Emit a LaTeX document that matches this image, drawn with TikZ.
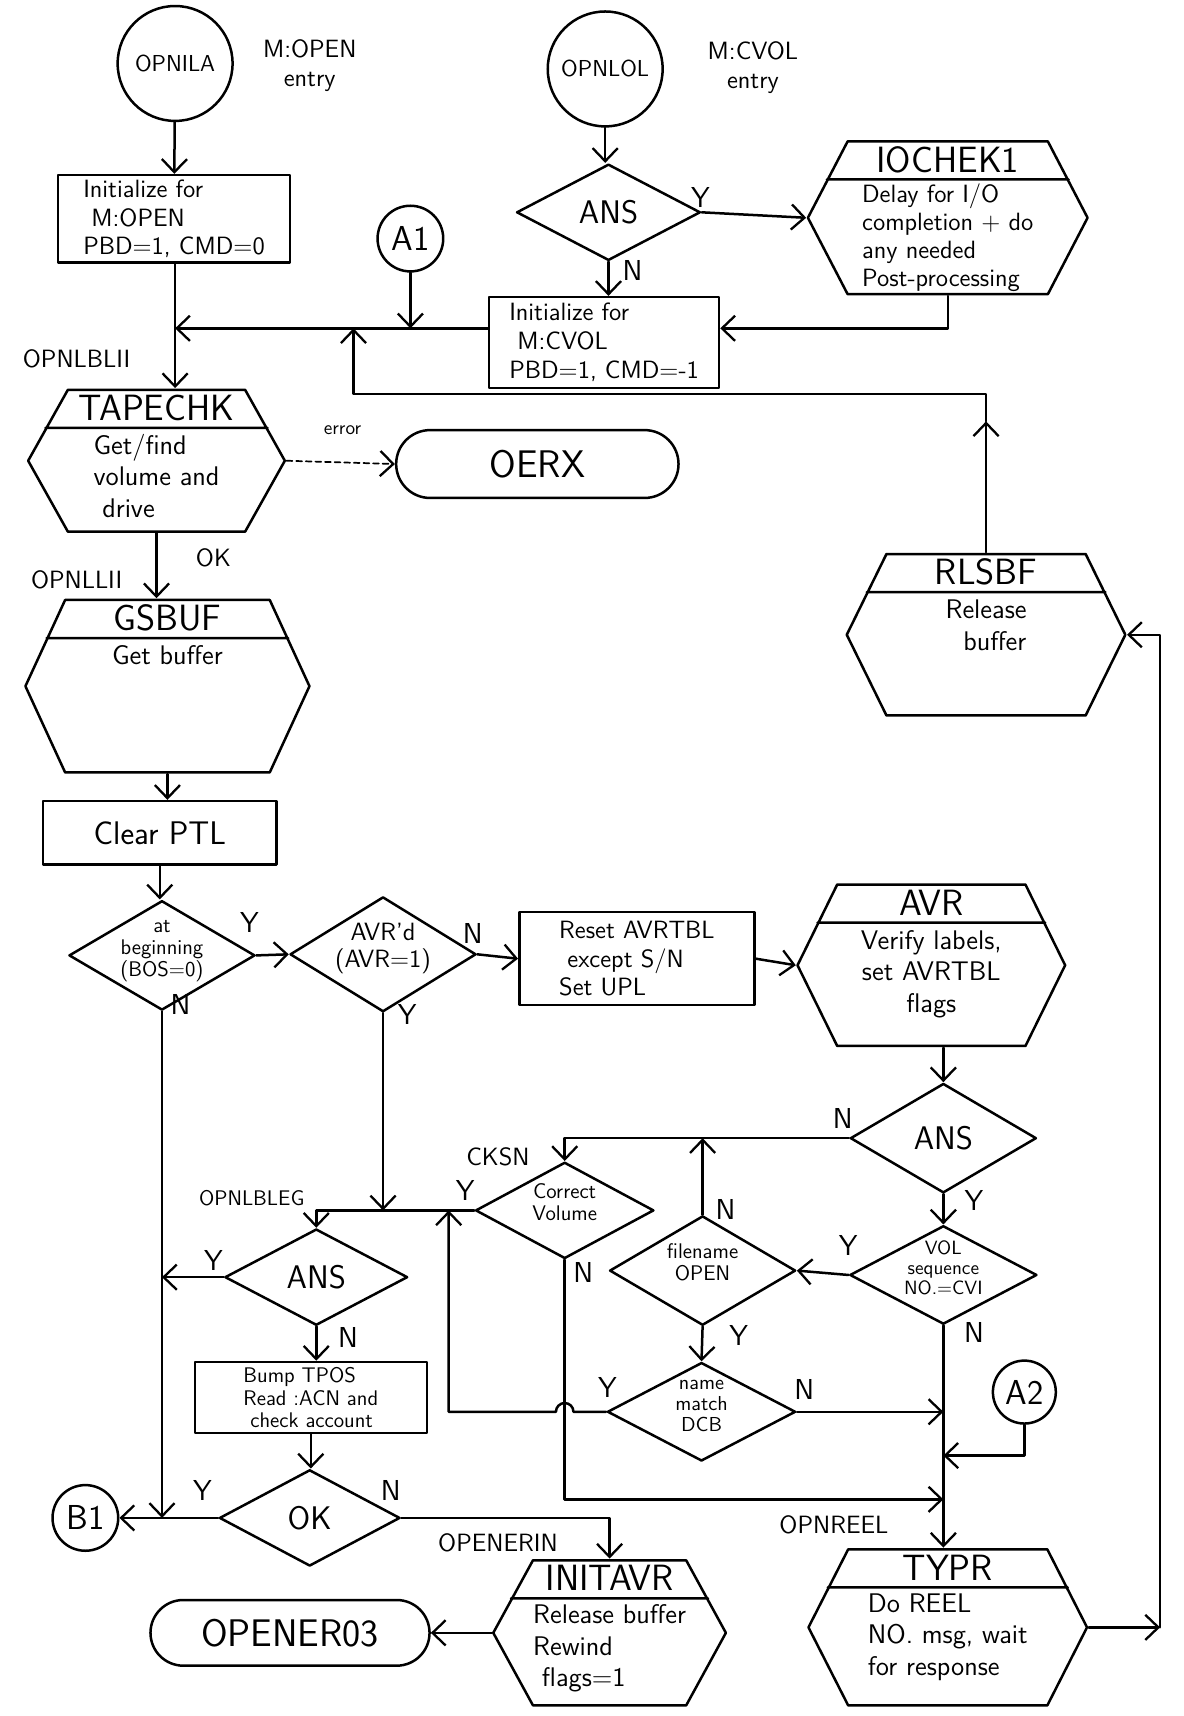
\documentclass[tikz,border=0pt]{standalone}
\usepackage{fontspec}
\usetikzlibrary{arrows.meta,positioning,calc,shapes.geometric,shapes.misc}
\newcommand{\hexcut}{7.5mm}
\newcommand{\hexdiv}{7.2mm}
\newcommand{\dlab}[1]{\smash{\makebox[0pt]{\begin{tabular}{@{}c@{}}#1\end{tabular}}}}
\tikzset{
  ln/.style={line width=1.3pt, line cap=round, line join=round},
  arr/.style={ln, -{Straight Barb[length=2.4mm,width=4.6mm,line width=1.2pt]}},
  dasharr/.style={arr, line width=0.9pt, dash pattern=on 3pt off 2pt},
  procbox/.style={draw, ln, rectangle, inner sep=0pt, align=left, font=\sffamily\fontsize{13}{15}\selectfont},
  decision/.style={draw, ln, diamond, inner sep=0pt, font=\sffamily\fontsize{11}{11.5}\selectfont},
  termbox/.style={draw, ln, rounded rectangle, inner sep=0pt, font=\sffamily\fontsize{20}{22}\selectfont},
  connect/.style={draw, ln, circle, inner sep=0pt, font=\sffamily\fontsize{18}{20}\selectfont},
  entry/.style={draw, ln, circle, inner sep=0pt, font=\sffamily\fontsize{12}{14}\selectfont},
  hexbox/.style={inner sep=0pt, path picture={
    \draw[ln] let \p1=(path picture bounding box.north west), \p2=(path picture bounding box.south east) in
      ({\x1+\hexcut},{\y1-0.7pt}) -- ({\x2-\hexcut},{\y1-0.7pt}) -- ({\x2-0.7pt},{(\y1+\y2)/2})
      -- ({\x2-\hexcut},{\y2+0.7pt}) -- ({\x1+\hexcut},{\y2+0.7pt}) -- ({\x1+0.7pt},{(\y1+\y2)/2}) -- cycle
      ({\x1+\hexcut-\hexcut*2*\hexdiv/(\y1-\y2)},{\y1-\hexdiv}) -- ({\x2-\hexcut+\hexcut*2*\hexdiv/(\y1-\y2)},{\y1-\hexdiv});
  }},
  hextitle/.style={inner sep=0pt, font=\sffamily\fontsize{19}{21}\selectfont},
  hexbody/.style={anchor=north, inner sep=0pt, align=left, font=\sffamily\fontsize{14}{16.5}\selectfont},
  yn/.style={inner sep=0pt, font=\sffamily\fontsize{15}{17}\selectfont},
  tag/.style={inner sep=0pt, align=center, font=\sffamily\fontsize{13}{15}\selectfont},
}
\begin{document}
\begin{tikzpicture}[x=0.2mm, y=-0.2mm]
  \useasboundingbox (0,0) rectangle (1081,1568);
  % entries
  \node[entry, minimum size=21mm] (opnila) at (160,58) {OPNILA};
  \node[tag] (opnila-l) at (283,60) {M:OPEN\\ entry};
  \node[entry, minimum size=21mm] (opnlol) at (553,63) {OPNLOL};
  \node[tag] (opnlol-l) at (688,62) {M:CVOL\\ entry};
  \node[procbox, minimum width=42.4mm, minimum height=16mm] (initA) at (159,200) {Initialize for\\ \ M:OPEN\\PBD=1, CMD=0};
  \node[decision, minimum width=33.6mm, minimum height=17.6mm, font=\sffamily\fontsize{17}{19}\selectfont] (ans1) at (556,194) {ANS};
  \node[hexbox, minimum width=51.6mm, minimum height=28.4mm] (ioc) at (866,199) {};
  \node[hextitle] (ioc-t) at ([yshift=-3.6mm]ioc.north) {IOCHEK1};
  \node[hexbody, font=\sffamily\fontsize{13}{14.5}\selectfont] (ioc-b) at ([yshift=-8mm]ioc.north) {Delay for I/O\\completion + do\\any needed\\Post-processing};
  \node[connect, minimum size=12mm] (a1) at (375,218) {A1};
  \node[procbox, minimum width=42mm, minimum height=16.6mm] (initV) at (552,313) {Initialize for\\ \ M:CVOL\\PBD=1, CMD=-1};
  \node[yn] (ans1-y) at (640,180) {Y};
  \node[yn] (ans1-n) at (578,247) {N};
  % volume and buffer
  \node[tag] (lbl-blii) at (70,328) {OPNLBLII};
  \node[hexbox, minimum width=47.4mm, minimum height=26.4mm] (tap) at (143,421) {};
  \node[hextitle] (tap-t) at ([yshift=-3.6mm]tap.north) {TAPECHK};
  \node[hexbody] (tap-b) at ([yshift=-8.3mm]tap.north) {Get/find\\ volume and\\ \ drive};
  \node[tag, font=\sffamily\fontsize{10}{12}\selectfont] (err) at (313,393) {error};
  \node[termbox, minimum width=51.6mm, minimum height=12.4mm] (oerx) at (491,424) {\addfontfeature{LetterSpace=30}OERX};
  \node[tag] (ok-l) at (195,510) {OK};
  \node[tag] (lbl-llii) at (70,530) {OPNLLII};
  \node[hexbox, minimum width=52.4mm, minimum height=32mm] (gsb) at (153,627) {};
  \node[hextitle] (gsb-t) at ([yshift=-3.6mm]gsb.north) {GSBUF};
  \node[hexbody] (gsb-b) at ([yshift=-8.6mm]gsb.north) {Get buffer};
  \node[hexbox, minimum width=51.4mm, minimum height=30mm] (rls) at (901,580) {};
  \node[hextitle] (rls-t) at ([yshift=-3.6mm]rls.north) {RLSBF};
  \node[hexbody, align=center] (rls-b) at ([yshift=-8.6mm]rls.north) {Release\\ \ \ buffer};
  \node[procbox, minimum width=42.6mm, minimum height=11.6mm, font=\sffamily\fontsize{17}{19}\selectfont] (clr) at (146,761) {Clear PTL};
  % label checks
  \node[decision, minimum width=34mm, minimum height=20mm] (atb) at (148,873) {\dlab{at\\beginning\\(BOS=0)}};
  \node[decision, minimum width=34mm, minimum height=21mm, font=\sffamily\fontsize{13}{14}\selectfont] (avrd) at (350,872) {\dlab{AVR'd\\(AVR=1)}};
  \node[procbox, minimum width=43mm, minimum height=17mm] (rst) at (582,876) {Reset AVRTBL\\ \ except S/N\\Set UPL};
  \node[hexbox, minimum width=49.4mm, minimum height=30mm] (avr) at (851,882) {};
  \node[hextitle] (avr-t) at ([yshift=-3.6mm]avr.north) {AVR};
  \node[hexbody, align=center] (avr-b) at ([yshift=-8.6mm]avr.north) {Verify labels,\\set AVRTBL\\flags};
  \node[yn] (atb-y) at (228,843) {Y};
  \node[yn] (atb-n) at (165,918) {N};
  \node[yn] (avrd-n) at (432,853) {N};
  \node[yn] (avrd-y) at (372,927) {Y};
  \node[decision, minimum width=34mm, minimum height=20mm, font=\sffamily\fontsize{17}{19}\selectfont] (ans2) at (862,1040) {ANS};
  \node[yn] (ans2-n) at (770,1022) {N};
  \node[yn] (ans2-y) at (890,1097) {Y};
  \node[tag] (lbl-cksn) at (455,1057) {CKSN};
  \node[decision, minimum width=32.6mm, minimum height=17.6mm] (cv) at (516,1106) {\dlab{Correct\\Volume}};
  \node[tag, font=\sffamily\fontsize{11}{13}\selectfont] (lbl-bleg) at (230,1095) {OPNLBLEG};
  \node[decision, minimum width=33.4mm, minimum height=17.6mm, font=\sffamily\fontsize{17}{19}\selectfont] (ans3) at (289,1167) {ANS};
  \node[decision, minimum width=34mm, minimum height=20mm] (fo) at (642,1161) {\dlab{filename\\OPEN}};
  \node[decision, minimum width=34.2mm, minimum height=18mm, font=\sffamily\fontsize{10}{10.5}\selectfont] (vol) at (862,1165) {\dlab{VOL\\sequence\\NO.=CVI}};
  \node[yn] (cv-y) at (425,1088) {Y};
  \node[yn] (cv-n) at (533,1163) {N};
  \node[yn] (fo-n) at (663,1105) {N};
  \node[yn] (fo-y) at (675,1220) {Y};
  \node[yn] (vol-y) at (775,1138) {Y};
  \node[yn] (vol-n) at (890,1218) {N};
  \node[yn] (ans3-y) at (195,1152) {Y};
  \node[yn] (ans3-n) at (318,1222) {N};
  \node[procbox, minimum width=42.4mm, minimum height=13mm, font=\sffamily\fontsize{11}{11.8}\selectfont] (bump) at (284,1277) {Bump TPOS\\Read :ACN and\\ \ check account};
  \node[decision, minimum width=34.4mm, minimum height=18mm, font=\sffamily\fontsize{10.5}{11}\selectfont] (nm) at (641,1290) {\dlab{name\\match\\DCB}};
  \node[yn] (nm-y) at (555,1268) {Y};
  \node[yn] (nm-n) at (735,1270) {N};
  \node[connect, minimum size=11.5mm] (a2) at (936,1272) {A2};
  \node[decision, minimum width=33mm, minimum height=17.6mm, font=\sffamily\fontsize{17}{19}\selectfont] (ok) at (283,1387) {OK};
  \node[yn] (ok-y) at (185,1362) {Y};
  \node[yn] (ok-n) at (357,1362) {N};
  \node[connect, minimum size=12mm] (b1) at (78,1387) {B1};
  % exits
  \node[tag] (lbl-erin) at (455,1410) {OPENERIN};
  \node[hexbox, minimum width=43mm, minimum height=27mm] (iavr) at (557,1492) {};
  \node[hextitle] (iavr-t) at ([yshift=-3.6mm]iavr.north) {INITAVR};
  \node[hexbody] (iavr-b) at ([yshift=-8.3mm]iavr.north) {Release buffer\\Rewind\\ \ flags=1};
  \node[termbox, minimum width=51mm, minimum height=12mm] (op03) at (265,1492) {OPENER03};
  \node[tag] (lbl-reel) at (762,1393) {OPNREEL};
  \node[hexbox, minimum width=51.4mm, minimum height=29mm] (typr) at (866,1487) {};
  \node[hextitle] (typr-t) at ([yshift=-3.6mm]typr.north) {TYPR};
  \node[hexbody] (typr-b) at ([yshift=-8.3mm]typr.north) {Do REEL\\NO. msg, wait\\for response};
  % junctions
  \coordinate (jA) at (160,300);
  \coordinate (lpm) at (901,385);
  \coordinate (lpr) at (901,360);
  \coordinate (lpl) at (323,360);
  \coordinate (lpe) at (323,300);
  \coordinate (xup) at (410,0);
  \coordinate (xrt) at (1060,0);
  % connectors
  \draw[arr] (opnila) -- (initA);
  \draw[arr] (opnlol.south) -- (opnlol.south |- ans1.north);
  \draw[arr] (ans1.east) -- (ioc.west);
  \draw[arr] (ans1.south) -- (ans1.south |- initV.north);
  \draw[arr] (ioc.south) |- (initV.east |- jA);
  \draw[arr] (initV.west |- jA) -- (jA);
  \draw[arr] (a1.south) -- (a1.south |- jA);
  \draw[arr] (initA.south -| jA) -- (jA |- tap.north);
  \draw[arr] (rls.north) -- (lpm);
  \draw[arr] (lpm) -- (lpr) -- (lpl) -- (lpe);
  \draw[dasharr] (tap.east) -- (oerx.west);
  \draw[arr] (tap.south) -- (tap.south |- gsb.north);
  \draw[arr] (gsb.south) -- (gsb.south |- clr.north);
  \draw[arr] (clr.south) -- (clr.south |- atb.north);
  \draw[arr] (atb.east) -- (avrd.west);
  \draw[arr] (avrd.east) -- (rst.west);
  \draw[arr] (rst.east) -- (avr.west);
  \draw[arr] (ans2.north |- avr.south) -- (ans2.north);
  \draw[arr] (ans2.west) -| (cv.north);
  \draw[arr] (fo.north) -- (fo.north |- ans2.west);
  \draw[arr] (ans2.south) -- (vol.north);
  \draw[arr] (vol.west) -- (fo.east);
  \draw[arr] (fo.south) -- (nm.north);
  \draw[arr] (cv.west) -| (ans3.north);
  \draw[arr] (avrd.south) -- (avrd.south |- cv.west);
  \draw[arr] (nm.west) -- ([xshift=1.6mm]cv.south |- nm.west) arc[start angle=0, end angle=180, radius=1.6mm]
    -- (xup |- nm.west) -- (xup |- cv.west);
  \draw[arr] (nm.east) -- (nm.east -| vol.south);
  \draw[arr] (a2.south) |- ([yshift=-8mm]nm.east -| vol.south);
  \draw[arr] (cv.south) |- ([yshift=-16mm]nm.east -| vol.south);
  \draw[arr] (vol.south) -- (vol.south |- typr.north);
  \draw[arr] (ans3.west) -- (ans3.west -| atb.south);
  \draw[arr] (ans3.south) -- (ans3.south |- bump.north);
  \draw[arr] (bump.south) -- (bump.south |- ok.north);
  \draw[arr] (atb.south) -- (atb.south |- ok.west);
  \draw[arr] (ok.west) -- (b1.east);
  \draw[arr] (ok.east) -| (iavr.north);
  \draw[arr] (iavr.west) -- (op03.east);
  \draw[arr] (typr.east) -- (typr.east -| xrt);
  \draw[arr] (typr.east -| xrt) -- (xrt |- rls.east) -- (rls.east);
\end{tikzpicture}
\end{document}
